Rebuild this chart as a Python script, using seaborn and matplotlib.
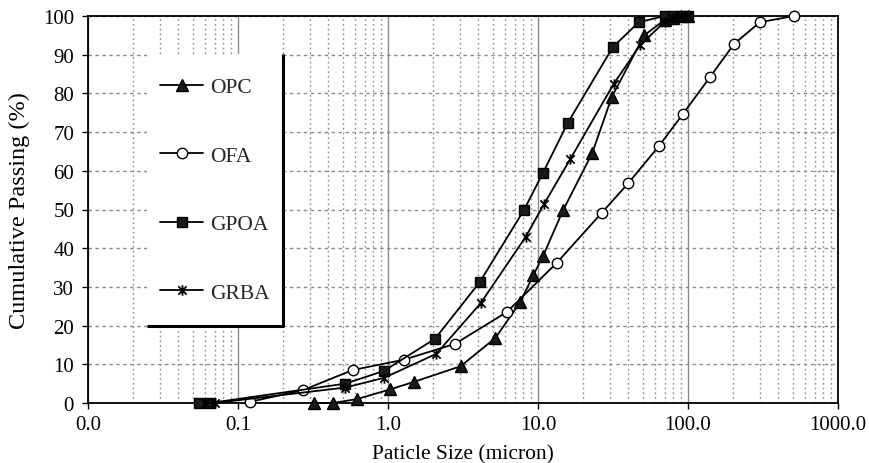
import numpy as np
import pandas as pd
import matplotlib
matplotlib.use("Agg")
import matplotlib.pyplot as plt
import seaborn as sns
from matplotlib.path import Path
from matplotlib.patches import Rectangle
from matplotlib.ticker import FixedLocator, FixedFormatter, LogLocator, NullFormatter

# ---- data ----
series_names = ["OPC", "OFA", "GPOA", "GRBA"]

opc_x = [0.32, 0.43, 0.62, 1.03, 1.5, 3.05, 5.2, 7.6, 9.3, 10.8, 14.7, 23, 31, 51, 70, 80, 90, 100]
opc_y = [0, 0, 1, 3.5, 5.5, 9.5, 16.8, 26, 33, 38, 49.8, 64.6, 79, 95, 99, 99.5, 100, 100]

ofa_x = [0.12, 0.27, 0.58, 1.28, 2.8, 6.2, 13.4, 26.7, 40, 64, 93, 140, 203, 302, 509]
ofa_y = [0.3, 3.3, 8.5, 11.2, 15.3, 23.5, 36.3, 49.2, 56.8, 66.4, 74.8, 84.2, 92.8, 98.4, 100]

gpoa_x = [0.055, 0.065, 0.52, 0.94, 2.06, 4.1, 8.1, 10.8, 15.8, 31.6, 47, 70, 80, 90, 100]
gpoa_y = [0, 0, 5, 8.3, 16.6, 31.3, 50, 59.5, 72.4, 92, 98.4, 100, 100, 100, 100]

grba_x = [0.06, 0.07, 0.52, 0.94, 2.1, 4.15, 8.3, 11, 16.4, 32, 48, 70, 80, 90, 100]
grba_y = [0, 0, 4, 6.5, 12.7, 25.8, 43, 51.5, 63, 82.5, 92.5, 98.5, 99.5, 100, 100]

x_ticks = [0.01, 0.1, 1, 10, 100, 1000]
x_tick_labels = ["0.0", "0.1", "1.0", "10.0", "100.0", "1000.0"]
y_ticks = [0, 10, 20, 30, 40, 50, 60, 70, 80, 90, 100]

# ---- style ----
sns.set_theme(style="white")
plt.rcParams["font.family"] = ["Liberation Serif", "DejaVu Serif"]

asterisk = Path([(-1, -1), (1, 1), (-1, 1), (1, -1), (0, -1.25), (0, 1.25)],
                [Path.MOVETO, Path.LINETO, Path.MOVETO, Path.LINETO, Path.MOVETO, Path.LINETO])

fig = plt.figure(figsize=(8.7, 4.64), dpi=100)
ax = fig.add_axes([88 / 870, 60 / 464, 750 / 870, 387 / 464])
ax.set_xscale("log")

styles = {
    "OPC": dict(marker="^", markersize=8, markerfacecolor="k"),
    "OFA": dict(marker="o", markersize=7.5, markerfacecolor="white"),
    "GPOA": dict(marker="s", markersize=7, markerfacecolor="k"),
    "GRBA": dict(marker=asterisk, markersize=7.5, markerfacecolor="none", markeredgewidth=1.3),
}
data = {
    "OPC": (opc_x, opc_y),
    "OFA": (ofa_x, ofa_y),
    "GPOA": (gpoa_x, gpoa_y),
    "GRBA": (grba_x, grba_y),
}

for name in series_names:
    xs, ys = data[name]
    df = pd.DataFrame({"size": xs, "passing": ys})
    st = dict(styles[name])
    st.setdefault("markeredgewidth", 1.0)
    sns.lineplot(data=df, x="size", y="passing", ax=ax, color="black",
                 estimator=None, sort=False, linewidth=1.3,
                 markeredgecolor="black", label=name, zorder=3, clip_on=False, **st)

ax.set_xlim(0.01, 1000)
ax.set_ylim(0, 100)

ax.xaxis.set_major_locator(FixedLocator(x_ticks))
ax.xaxis.set_major_formatter(FixedFormatter(x_tick_labels))
ax.xaxis.set_minor_locator(LogLocator(base=10, subs=np.arange(2, 10)))
ax.xaxis.set_minor_formatter(NullFormatter())
ax.yaxis.set_major_locator(FixedLocator(y_ticks))

ax.tick_params(axis="both", which="major", labelsize=15, colors="black",
               direction="out", length=4, width=1, bottom=True, left=True)
ax.tick_params(axis="x", which="major", pad=5)
ax.tick_params(axis="y", which="major", pad=6)
ax.tick_params(axis="x", which="minor", length=0)

ax.grid(False)
ax.grid(True, axis="x", which="major", color="#8a8a8a", linestyle="-", linewidth=1.0, zorder=0)
ax.grid(True, axis="x", which="minor", color="#8a8a8a", linestyle=(0, (1.2, 2.2)), linewidth=1.0, zorder=0)
ax.grid(True, axis="y", which="major", color="#8a8a8a", linestyle=(0, (2.5, 2.5)), linewidth=1.0, zorder=0)
ax.set_axisbelow(True)

for sp in ax.spines.values():
    sp.set_color("black")
    sp.set_linewidth(1.3)
    sp.set_visible(True)

ax.set_xlabel("Paticle Size (micron)", fontsize=15.5, color="black", labelpad=7)
ax.set_ylabel("Cumulative Passing (%)", fontsize=17.5, color="black", labelpad=9)

leg = ax.legend(loc="upper left", bbox_to_anchor=(0.0647, 0.902), borderaxespad=0,
                fontsize=15.5, frameon=True, fancybox=False, facecolor="none",
                edgecolor="none", framealpha=1, labelspacing=2.25, borderpad=1.09,
                handlelength=2.0, handletextpad=0.32)
leg.set_zorder(5)
leg.get_frame().set_linewidth(0)

# legend box: white panel with heavy right/bottom edge
x0, y0, x1, y1 = 147, 464 - 327, 283, 464 - 55
fig.canvas.draw()
inv = ax.transAxes.inverted()
(ax0, ay0) = inv.transform((x0, y0))
(ax1, ay1) = inv.transform((x1, y1))
box = Rectangle((ax0, ay0), ax1 - ax0, ay1 - ay0, transform=ax.transAxes,
                facecolor="white", edgecolor="none", zorder=2.5)
ax.add_patch(box)
ax.plot([ax0, ax1, ax1], [ay0, ay0, ay1], transform=ax.transAxes, color="black",
        linewidth=2.2, solid_capstyle="butt", zorder=2.6, clip_on=False)

fig.savefig("out.png", dpi=100)
